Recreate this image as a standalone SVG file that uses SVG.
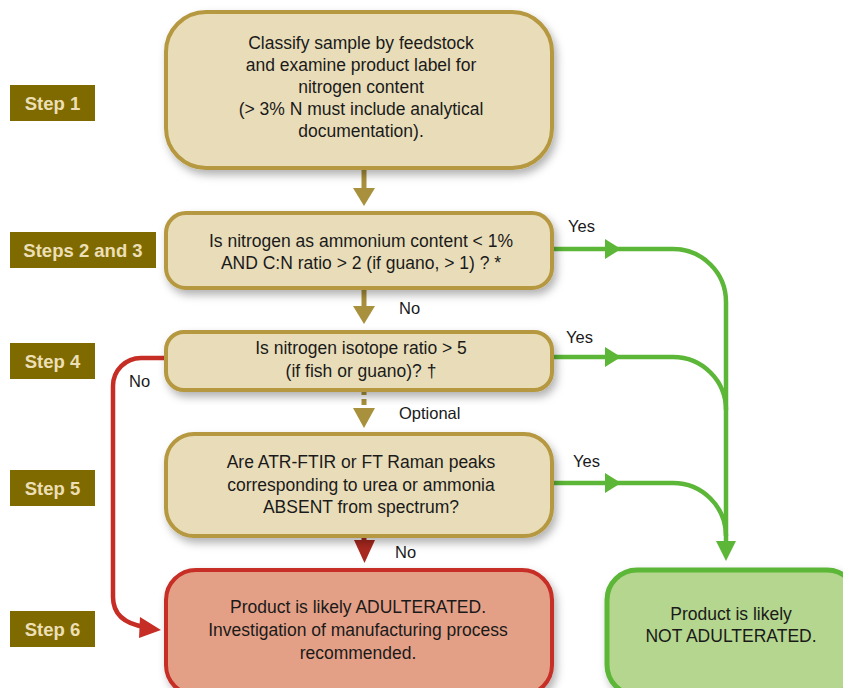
<svg xmlns="http://www.w3.org/2000/svg" width="843" height="688" viewBox="0 0 843 688">
<defs>
<filter id="sh" x="-10%" y="-10%" width="125%" height="135%">
<feDropShadow dx="3" dy="5" stdDeviation="4" flood-color="#000" flood-opacity="0.3"/>
</filter>
<style>
.box{fill:#e9ddb9;stroke:#b5983f;stroke-width:4;filter:url(#sh)}
.red{fill:#e4a087;stroke:#c62d25;stroke-width:4;filter:url(#sh)}
.grn{fill:#b4d68e;stroke:#5cb637;stroke-width:5;filter:url(#sh)}
.t{font-family:"Liberation Sans",Arial,sans-serif;font-size:17.5px;fill:#1a1a1a;text-anchor:middle}
.lbl{font-family:"Liberation Sans",Arial,sans-serif;font-size:16.5px;fill:#1a1a1a}
.stepbg{fill:#7f6a00}
.step{font-family:"Liberation Sans",Arial,sans-serif;font-size:18.5px;font-weight:bold;fill:#ecdfb5;text-anchor:middle}
.gl{fill:none;stroke:#5cb637;stroke-width:4.5}
.rl{fill:none;stroke:#c62d25;stroke-width:4.5}
.gold{fill:#a8903c}
.gah{fill:#5cb637}
.rah{fill:#c62d25}
</style>
</defs>
<rect width="843" height="688" fill="#fff"/>

<g id="steps">
<rect class="stepbg" x="10" y="85" width="85" height="36"/><text class="step" x="52.5" y="109.5">Step 1</text>
<rect class="stepbg" x="10" y="232" width="146" height="36"/><text class="step" x="83" y="256.5">Steps 2 and 3</text>
<rect class="stepbg" x="10" y="343" width="85" height="36"/><text class="step" x="52.5" y="367.5">Step 4</text>
<rect class="stepbg" x="10" y="470" width="85" height="36"/><text class="step" x="52.5" y="494.5">Step 5</text>
<rect class="stepbg" x="10" y="611" width="85" height="36"/><text class="step" x="52.5" y="635.5">Step 6</text>
</g>

<g id="connectors">
<rect class="gold" x="361.5" y="169" width="5" height="22"/>
<polygon class="gold" points="353,188 375,188 364,206"/>
<rect class="gold" x="361.5" y="289" width="5" height="19"/>
<polygon class="gold" points="353,306 375,306 364,324"/>
<rect class="gold" x="361.5" y="391" width="5" height="4"/>
<rect class="gold" x="361.5" y="399" width="5" height="6"/>
<polygon class="gold" points="353,408 375,408 364,428"/>
<rect fill="#a8281f" x="361.5" y="536" width="5" height="8"/>
<polygon fill="#a8281f" points="354,540 375,540 364.5,563"/>

<path class="gl" d="M553,249 H673 A53,53 0 0 1 726,302 V546"/>
<path class="gl" d="M553,357 H673 A53,53 0 0 1 726,410"/>
<path class="gl" d="M553,483 H673 A53,53 0 0 1 726,536"/>
<polygon class="gah" points="605,239 621,249 605,259"/>
<polygon class="gah" points="605,347 621,357 605,367"/>
<polygon class="gah" points="605,473 621,483 605,493"/>
<polygon class="gah" points="716,541 736,541 726,561"/>

<path class="rl" d="M165,358 H141 A28,28 0 0 0 113,386 V597 Q113,622 145,627"/>
<polygon class="rah" points="140,617 161,630 139,638"/>

<text class="lbl" x="568" y="232">Yes</text>
<text class="lbl" x="566" y="343">Yes</text>
<text class="lbl" x="573" y="467">Yes</text>
<text class="lbl" x="399" y="314">No</text>
<text class="lbl" x="399" y="419">Optional</text>
<text class="lbl" x="395" y="558">No</text>
<text class="lbl" x="129" y="387">No</text>
</g>

<g id="n1">
<rect class="box" x="166" y="12" width="386" height="156" rx="40"/>
<text class="t" x="361" y="49">Classify sample by feedstock</text>
<text class="t" x="361" y="71">and examine product label for</text>
<text class="t" x="361" y="93">nitrogen content</text>
<text class="t" x="361" y="115">(&gt; 3% N must include analytical</text>
<text class="t" x="361" y="137">documentation).</text>
</g>

<g id="n2">
<rect class="box" x="166" y="213" width="386" height="75" rx="20"/>
<text class="t" x="361" y="247">Is nitrogen as ammonium content &lt; 1%</text>
<text class="t" x="361" y="269">AND C:N ratio &gt; 2 (if guano, &gt; 1) ? *</text>
</g>

<g id="n3">
<rect class="box" x="166" y="332" width="386" height="58" rx="18"/>
<text class="t" x="361" y="354">Is nitrogen isotope ratio &gt; 5</text>
<text class="t" x="361" y="377">(if fish or guano)? †</text>
</g>

<g id="n4">
<rect class="box" x="166" y="434" width="386" height="102" rx="28"/>
<text class="t" x="361" y="468">Are ATR-FTIR or FT Raman peaks</text>
<text class="t" x="361" y="491">corresponding to urea or ammonia</text>
<text class="t" x="361" y="513">ABSENT from spectrum?</text>
</g>

<g id="n5">
<rect class="red" x="166" y="570" width="386" height="125" rx="30"/>
<text class="t" x="358" y="613">Product is likely ADULTERATED.</text>
<text class="t" x="358" y="636">Investigation of manufacturing process</text>
<text class="t" x="358" y="659">recommended.</text>
</g>

<g id="n6">
<rect class="grn" x="607" y="570" width="250" height="125" rx="30"/>
<text class="t" x="731" y="620">Product is likely</text>
<text class="t" x="731" y="642">NOT ADULTERATED.</text>
</g>
</svg>
